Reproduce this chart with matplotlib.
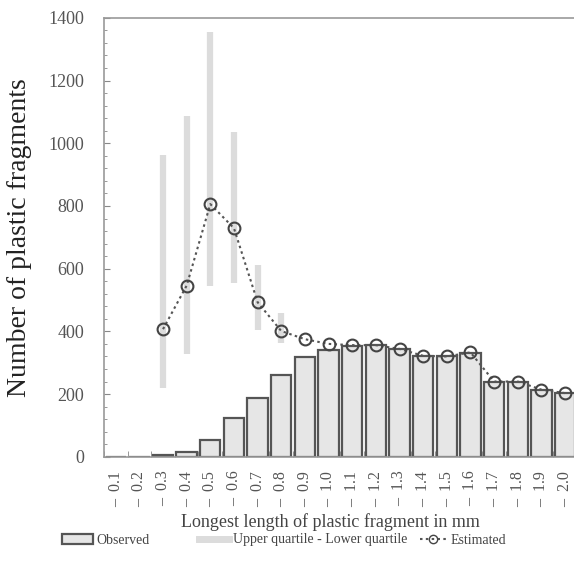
import numpy as np
import matplotlib
matplotlib.use("Agg")
import matplotlib.pyplot as plt
from matplotlib.patches import Patch
from matplotlib.lines import Line2D

plt.rcParams['font.family'] = ['Liberation Serif', 'DejaVu Serif']

# size classes (upper bound in mm)
labels = ['0.1', '0.2', '0.3', '0.4', '0.5', '0.6', '0.7', '0.8', '0.9', '1.0',
          '1.1', '1.2', '1.3', '1.4', '1.5', '1.6', '1.7', '1.8', '1.9', '2.0']
observed = [0, 0, 5, 15, 52, 124, 188, 260, 318, 341,
            352, 355, 344, 322, 320, 331, 240, 238, 214, 203]
estimated = [np.nan, np.nan, 407, 546, 806, 729, 493, 401, 375, 360,
             356, 356, 344, 322, 320, 333, 240, 240, 214, 203]
upper_q = [np.nan, np.nan, 961, 1088, 1356, 1035, 612, 460, np.nan, np.nan,
           np.nan, np.nan, np.nan, np.nan, np.nan, np.nan, np.nan, np.nan, np.nan, np.nan]
lower_q = [np.nan, np.nan, 219, 328, 546, 554, 405, 362, np.nan, np.nan,
           np.nan, np.nan, np.nan, np.nan, np.nan, np.nan, np.nan, np.nan, np.nan, np.nan]

x = np.arange(len(labels))

fig = plt.figure(figsize=(5.74, 5.76), dpi=100)
ax = fig.add_axes([0.181, 0.207, 0.824, 0.762])

# quartile range
ax.vlines(x, lower_q, upper_q, color='#dcdcdc', linewidth=4.5, zorder=1)

# observed bars
ax.bar(x, observed, width=0.86, color='#e6e6e6', edgecolor='#555555', linewidth=1.6, zorder=2)

# estimated
ax.plot(x, estimated, linestyle=(0, (1.2, 1.6)), color='#555555', linewidth=1.5,
        marker='o', markersize=8.5, markerfacecolor='none', markeredgecolor='#444444',
        markeredgewidth=1.5, zorder=3)

ax.set_xlim(-0.5, 19.5)
ax.set_ylim(0, 1400)
ax.set_yticks(np.arange(0, 1401, 200))
ax.set_yticks(np.arange(0, 1401, 40), minor=True)
ax.set_xticks(x)
ax.set_xticklabels(['\u2013  ' + l for l in labels], rotation=90, fontsize=11.5, color='#555555')
ax.set_xticks(np.arange(-0.5, 19.6, 1), minor=True)
ax.tick_params(axis='x', which='major', length=0, pad=10)
ax.tick_params(axis='x', which='minor', direction='in', length=4, color='#888888')
ax.tick_params(axis='y', which='major', direction='in', length=4, color='#888888',
               labelsize=13, labelcolor='#555555', pad=14)
ax.tick_params(axis='y', which='minor', direction='in', length=2.5, color='#888888')
for s in ax.spines.values():
    s.set_color('#999999')
    s.set_linewidth(1.2)

ax.set_ylabel('Number of plastic fragments', fontsize=20, color='#222222', labelpad=12)
fig.text(0.575, 1 - 522 / 576, 'Longest length of plastic fragment in mm', fontsize=13,
         color='#444444', ha='center', va='center')

# legend entries placed one by one (spacing is uneven in the original)
leg_kw = dict(loc='center left', frameon=False, fontsize=10, handletextpad=0.3,
              borderaxespad=0, borderpad=0, labelcolor='#444444')
l1 = fig.legend(handles=[Patch(facecolor='#e6e6e6', edgecolor='#555555', linewidth=1.6, label='Observed')],
                bbox_to_anchor=(0.108, 0.0625), handlelength=2.2, **leg_kw)
l2 = fig.legend(handles=[Line2D([], [], color='#dcdcdc', linewidth=5, label='Upper quartile - Lower quartile')],
                bbox_to_anchor=(0.346, 0.0625), handlelength=2.2, **leg_kw)
l3 = fig.legend(handles=[Line2D([], [], linestyle=(0, (1.2, 1.6)), color='#555555', linewidth=1.5, marker='o',
                                markersize=6, markerfacecolor='none', markeredgecolor='#444444',
                                label='Estimated')],
                bbox_to_anchor=(0.732, 0.0625), handlelength=1.9, **leg_kw)

fig.savefig('out.png', dpi=100)
